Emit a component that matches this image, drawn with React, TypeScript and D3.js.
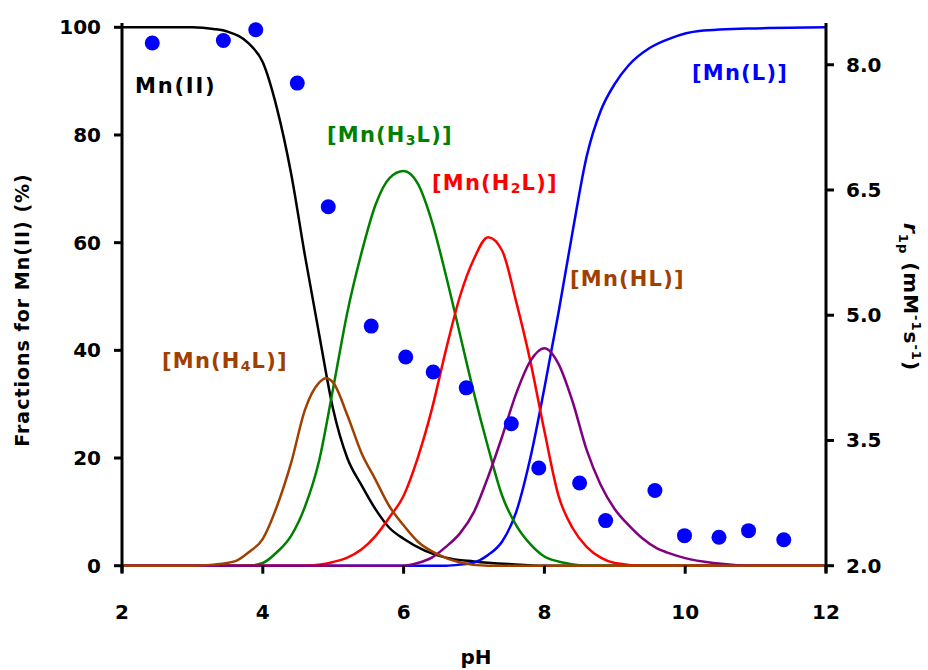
import React from "react";
import * as d3 from "d3";

const W = 928;
const H = 670;

// species distribution curves (pH, %)
const mnFreePH = [2, 3, 3.3, 3.5, 3.8, 4.0, 4.2, 4.4, 4.6, 4.8, 5.0, 5.2, 5.4, 5.6, 5.8, 6.0, 6.3, 6.6, 7.0, 7.5, 8.0, 12];
const mnFreeVal = [100, 100, 99.7, 99.2, 97, 93.5, 85, 73, 57.5, 43, 29, 20, 15, 10.5, 7, 5, 2.8, 1.5, 0.8, 0.3, 0, 0];

const h4lPH = [2, 3, 3.3, 3.6, 3.8, 4.0, 4.2, 4.4, 4.6, 4.8, 4.9, 5.0, 5.2, 5.4, 5.6, 5.8, 6.0, 6.2, 6.5, 6.8, 7.2, 12];
const h4lVal = [0, 0, 0.2, 0.8, 2.5, 5, 11, 19, 29, 34, 34.8, 34, 28, 21, 16, 11, 7.5, 4.5, 2, 0.6, 0, 0];

const h3lPH = [2, 3.8, 4.0, 4.2, 4.4, 4.6, 4.8, 5.0, 5.2, 5.4, 5.6, 5.8, 6.0, 6.2, 6.4, 6.6, 6.8, 7.0, 7.2, 7.4, 7.6, 7.8, 8.0, 8.3, 8.6, 12];
const h3lVal = [0, 0, 0.5, 2.5, 5.5, 11, 19.5, 33, 47, 58, 67, 72, 73.3, 71, 64, 54, 43, 32, 22, 13, 7.5, 4, 1.7, 0.5, 0, 0];

const h2lPH = [2, 4.6, 5.0, 5.2, 5.4, 5.6, 5.8, 6.0, 6.2, 6.4, 6.6, 6.8, 7.0, 7.2, 7.4, 7.6, 7.8, 8.0, 8.2, 8.4, 8.6, 8.8, 9.0, 9.4, 12];
const h2lVal = [0, 0, 0.7, 1.5, 3, 5.5, 9, 13, 20, 29, 40, 50, 57, 61, 58.5, 49, 38, 25, 13, 7, 3.5, 1.5, 0.5, 0, 0];

const hlPH = [2, 6.0, 6.2, 6.4, 6.6, 6.8, 7.0, 7.2, 7.4, 7.6, 7.8, 8.0, 8.2, 8.4, 8.6, 8.8, 9.0, 9.2, 9.4, 9.6, 9.8, 10.0, 10.4, 11, 12];
const hlVal = [0, 0, 0.5, 1.5, 3.5, 6, 10, 16.5, 24, 32, 38, 40.4, 37.5, 30.5, 21.5, 15, 10.5, 7.5, 5, 3.2, 2.2, 1.4, 0.5, 0, 0];

const lPH = [2, 6.6, 6.8, 7.0, 7.2, 7.4, 7.6, 7.8, 8.0, 8.2, 8.4, 8.6, 8.8, 9.0, 9.2, 9.5, 9.8, 10.2, 11, 12];
const lVal = [0, 0, 0.2, 0.6, 2, 4.5, 10, 20, 33, 47, 62, 76, 84.5, 89.5, 93, 96.2, 98, 99.3, 99.8, 100];

// relaxivity points (pH, r1p)
const relaxPH = [2.43, 3.44, 3.9, 4.49, 4.93, 5.54, 6.03, 6.42, 6.89, 7.53, 7.92, 8.5, 8.87, 9.57, 9.99, 10.48, 10.9, 11.4];
const relaxVal = [8.26, 8.29, 8.42, 7.78, 6.3, 4.87, 4.5, 4.32, 4.13, 3.7, 3.17, 2.99, 2.54, 2.9, 2.36, 2.34, 2.42, 2.31];

const xTicks = [2, 4, 6, 8, 10, 12];
const yLeftTicks = [0, 20, 40, 60, 80, 100];
const yRightTicks = [2.0, 3.5, 5.0, 6.5, 8.0];

const seriesNames = ["Mn(II)", "[Mn(L)]", "[Mn(H3L)]", "[Mn(H2L)]", "[Mn(HL)]", "[Mn(H4L)]"];
const seriesColors = ["#000000", "#0000FF", "#008000", "#FF0000", "#800080", "#A04000"];

const FONT = "'DejaVu Sans', sans-serif";

export default function App() {
  const x = d3.scaleLinear().domain([2, 12]).range([122, 826]);
  const yL = d3.scaleLinear().domain([0, 100.8]).range([565.7, 23]);
  const yR = d3.scaleLinear().domain([2, 8.5]).range([565.7, 23]);

  const series = [
    { ph: mnFreePH, v: mnFreeVal, c: seriesColors[0] },
    { ph: lPH, v: lVal, c: seriesColors[1] },
    { ph: h3lPH, v: h3lVal, c: seriesColors[2] },
    { ph: h2lPH, v: h2lVal, c: seriesColors[3] },
    { ph: hlPH, v: hlVal, c: seriesColors[4] },
    { ph: h4lPH, v: h4lVal, c: seriesColors[5] },
  ];

  const line = d3
    .line<[number, number]>()
    .x((d) => x(d[0]))
    .y((d) => yL(d[1]))
    .curve(d3.curveMonotoneX);

  const left = x(2);
  const right = x(12);
  const bottom = yL(0);
  const top = 23;
  const LS = 1.2;

  return (
    <svg
      width={W}
      height={H}
      style={{ position: "absolute", left: 0, top: 0, background: "#fff" }}
      fontFamily={FONT}
      fontWeight="bold"
    >
      {series.map((s, i) => (
        <path
          key={i}
          d={line(s.ph.map((p, j) => [p, s.v[j]] as [number, number])) || ""}
          fill="none"
          stroke={s.c}
          strokeWidth={2.5}
        />
      ))}

      {relaxPH.map((p, i) => (
        <circle key={i} cx={x(p)} cy={yR(relaxVal[i])} r={7.5} fill="#0000FF" />
      ))}

      {/* axes */}
      <line x1={left} x2={left} y1={top} y2={bottom + 7} stroke="#000" strokeWidth={3} />
      <line x1={right} x2={right} y1={top} y2={bottom + 7} stroke="#000" strokeWidth={3} />

      {xTicks.map((t) => (
        <g key={"x" + t}>
          <line x1={x(t)} x2={x(t)} y1={bottom} y2={bottom + 8} stroke="#000" strokeWidth={3} />
          <text x={x(t)} y={619} textAnchor="middle" fontSize={20}>
            {t}
          </text>
        </g>
      ))}
      {yLeftTicks.map((t) => (
        <g key={"yl" + t}>
          <line x1={left - 8} x2={left} y1={yL(t)} y2={yL(t)} stroke="#000" strokeWidth={3} />
          <text x={101} y={yL(t) + 7} textAnchor="end" fontSize={20}>
            {t}
          </text>
        </g>
      ))}
      {yRightTicks.map((t) => (
        <g key={"yr" + t}>
          <line x1={right} x2={right + 8} y1={yR(t)} y2={yR(t)} stroke="#000" strokeWidth={3} />
          <text x={846} y={yR(t) + 7} textAnchor="start" fontSize={20}>
            {t.toFixed(1)}
          </text>
        </g>
      ))}

      {/* axis titles */}
      <text x={476} y={664} textAnchor="middle" fontSize={20}>
        pH
      </text>
      <text
        transform="translate(29,310) rotate(-90)"
        textAnchor="middle"
        fontSize={19}
        letterSpacing={1}
      >
        Fractions for Mn(II) (%)
      </text>
      <text transform="translate(904,297) rotate(90)" textAnchor="middle" fontSize={20} letterSpacing={1}>
        <tspan fontStyle="italic">r</tspan>
        <tspan fontSize={13} dy={5}>1p</tspan>
        <tspan dy={-5}> (mM</tspan>
        <tspan fontSize={13} dy={-8}>-1</tspan>
        <tspan dy={8}>s</tspan>
        <tspan fontSize={13} dy={-8}>-1</tspan>
        <tspan dy={8}>)</tspan>
      </text>

      {/* series labels */}
      <text x={135} y={93} fontSize={21} letterSpacing={1.8} fill={seriesColors[0]}>
        {seriesNames[0]}
      </text>
      <text x={692} y={80} fontSize={21} letterSpacing={LS} fill={seriesColors[1]}>
        {seriesNames[1]}
      </text>
      <text x={327} y={142} fontSize={21} letterSpacing={LS} fill={seriesColors[2]}>
        [Mn(H<tspan fontSize={14} dy={3}>3</tspan><tspan dy={-3}>L)]</tspan>
      </text>
      <text x={432} y={190} fontSize={21} letterSpacing={LS} fill={seriesColors[3]}>
        [Mn(H<tspan fontSize={14} dy={3}>2</tspan><tspan dy={-3}>L)]</tspan>
      </text>
      <text x={570} y={286} fontSize={21} letterSpacing={LS} fill={seriesColors[5]}>
        {seriesNames[4]}
      </text>
      <text x={162} y={368} fontSize={21} letterSpacing={LS} fill={seriesColors[5]}>
        [Mn(H<tspan fontSize={14} dy={3}>4</tspan><tspan dy={-3}>L)]</tspan>
      </text>
    </svg>
  );
}
